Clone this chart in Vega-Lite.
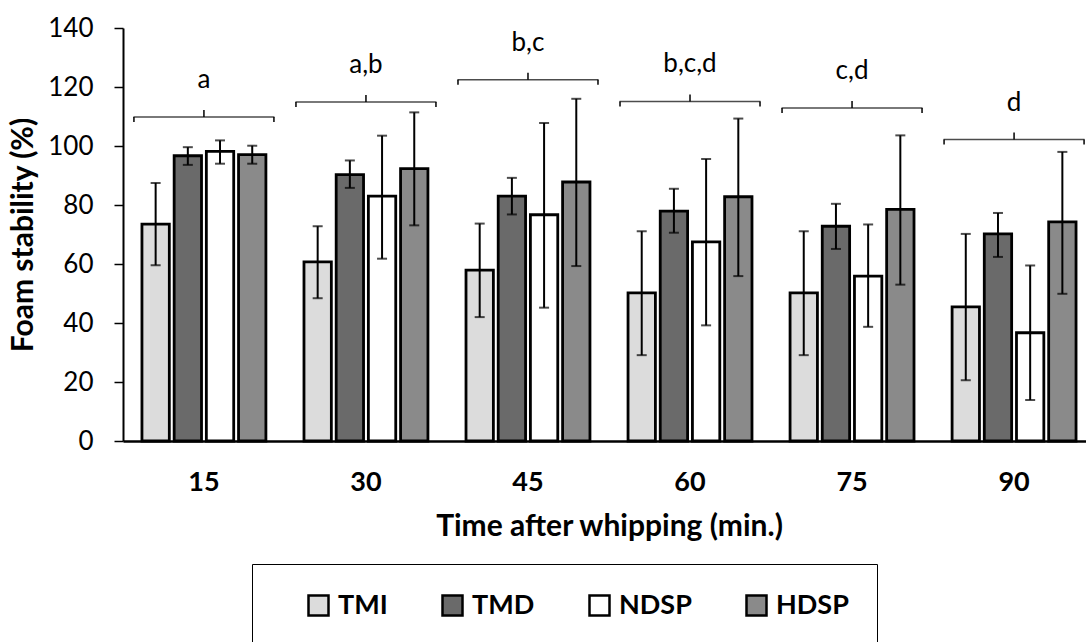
{
  "$schema": "https://vega.github.io/schema/vega-lite/v6.json",
  "width": 963,
  "height": 413,
  "autosize": {"type": "none"},
  "padding": {"left": 123, "top": 28, "right": 0, "bottom": 201},
  "background": "white",
  "config": {"view": {"stroke": null}, "font": "Lato", "text": {"font": "Lato"}},
  "datasets": {
    "bars": [
      {"time": 15, "series": "TMI", "value": 73.5, "lo": 59.6, "hi": 87.5},
      {"time": 15, "series": "TMD", "value": 96.7, "lo": 93.6, "hi": 99.6},
      {"time": 15, "series": "NDSP", "value": 98.2, "lo": 94.0, "hi": 101.9},
      {"time": 15, "series": "HDSP", "value": 97.1, "lo": 94.0, "hi": 100.1},
      {"time": 30, "series": "TMI", "value": 60.7, "lo": 48.4, "hi": 72.8},
      {"time": 30, "series": "TMD", "value": 90.3, "lo": 85.8, "hi": 95.1},
      {"time": 30, "series": "NDSP", "value": 83.0, "lo": 61.8, "hi": 103.5},
      {"time": 30, "series": "HDSP", "value": 92.3, "lo": 73.1, "hi": 111.4},
      {"time": 45, "series": "TMI", "value": 57.9, "lo": 42.0, "hi": 73.7},
      {"time": 45, "series": "TMD", "value": 83.0, "lo": 76.8, "hi": 89.2},
      {"time": 45, "series": "NDSP", "value": 76.7, "lo": 45.2, "hi": 107.8},
      {"time": 45, "series": "HDSP", "value": 87.8, "lo": 59.3, "hi": 116.0},
      {"time": 60, "series": "TMI", "value": 50.2, "lo": 29.1, "hi": 71.1},
      {"time": 60, "series": "TMD", "value": 77.9, "lo": 70.6, "hi": 85.5},
      {"time": 60, "series": "NDSP", "value": 67.5, "lo": 39.2, "hi": 95.6},
      {"time": 60, "series": "HDSP", "value": 82.8, "lo": 55.9, "hi": 109.3},
      {"time": 75, "series": "TMI", "value": 50.2, "lo": 29.1, "hi": 71.1},
      {"time": 75, "series": "TMD", "value": 72.8, "lo": 65.1, "hi": 80.4},
      {"time": 75, "series": "NDSP", "value": 55.9, "lo": 38.7, "hi": 73.4},
      {"time": 75, "series": "HDSP", "value": 78.5, "lo": 53.0, "hi": 103.6},
      {"time": 90, "series": "TMI", "value": 45.5, "lo": 20.6, "hi": 70.2},
      {"time": 90, "series": "TMD", "value": 70.2, "lo": 62.4, "hi": 77.3},
      {"time": 90, "series": "NDSP", "value": 36.7, "lo": 13.9, "hi": 59.5},
      {"time": 90, "series": "HDSP", "value": 74.3, "lo": 49.9, "hi": 98.0}
    ],
    "brackets": [
      {"time": 15, "level": 109.8, "label": "a"},
      {"time": 30, "level": 114.9, "label": "a,b"},
      {"time": 45, "level": 122.5, "label": "b,c"},
      {"time": 60, "level": 115.1, "label": "b,c,d"},
      {"time": 75, "level": 112.9, "label": "c,d"},
      {"time": 90, "level": 102.2, "label": "d"}
    ]
  },
  "layer": [
    {
      "data": {"name": "bars"},
      "mark": {"type": "bar", "stroke": "black", "strokeWidth": 2.8},
      "encoding": {
        "x": {
          "field": "time", "type": "ordinal",
          "scale": {"range": [0, 972], "paddingInner": 0.235, "paddingOuter": 0.117},
          "title": "Time after whipping (min.)",
          "axis": {
            "ticks": false, "domainWidth": 2.5, "domainColor": "black",
            "labelAngle": 0, "labelFontSize": 27, "labelFontWeight": "bold", "labelColor": "black",
            "labelPadding": 28, "titleFontSize": 30, "titleFontWeight": "bold", "titleColor": "black",
            "titlePadding": 16, "grid": false
          }
        },
        "xOffset": {
          "field": "series", "type": "nominal",
          "scale": {"domain": ["TMI", "TMD", "NDSP", "HDSP"], "paddingInner": 0.15, "paddingOuter": 0}
        },
        "y": {
          "field": "value", "type": "quantitative",
          "scale": {"domain": [0, 140], "nice": false},
          "title": "Foam stability (%)",
          "axis": {
            "values": [0, 20, 40, 60, 80, 100, 120, 140], "grid": false,
            "tickSize": 9, "tickWidth": 1.5, "tickColor": "black",
            "domainWidth": 2, "domainColor": "black",
            "labelFontSize": 26, "labelColor": "black", "labelPadding": 21,
            "titleFontSize": 30, "titleFontWeight": "bold", "titleColor": "black", "titlePadding": 9
          }
        },
        "color": {
          "field": "series", "type": "nominal",
          "scale": {"domain": ["TMI", "TMD", "NDSP", "HDSP"], "range": ["#dcdcdc", "#6a6a6a", "#ffffff", "#8a8a8a"]},
          "legend": {
            "orient": "none", "legendX": 129, "legendY": 536, "direction": "horizontal",
            "title": " ", "titleOrient": "left", "titlePadding": 25,
            "padding": 28, "strokeColor": "black",
            "columnPadding": 49, "gridAlign": "none",
            "symbolType": "square", "symbolSize": 400, "symbolStrokeColor": "black", "symbolStrokeWidth": 2.5,
            "labelFontSize": 27, "labelFontWeight": "bold", "labelColor": "black", "labelOffset": 6
          }
        }
      }
    },
    {
      "data": {"name": "bars"},
      "mark": {"type": "rule", "strokeWidth": 2, "color": "black"},
      "encoding": {
        "x": {"field": "time", "type": "ordinal"},
        "xOffset": {"field": "series", "type": "nominal"},
        "y": {"field": "lo", "type": "quantitative"},
        "y2": {"field": "hi"}
      }
    },
    {
      "data": {"name": "bars"},
      "mark": {"type": "tick", "orient": "horizontal", "size": 10, "thickness": 2, "color": "black"},
      "encoding": {
        "x": {"field": "time", "type": "ordinal"},
        "xOffset": {"field": "series", "type": "nominal"},
        "y": {"field": "lo", "type": "quantitative"}
      }
    },
    {
      "data": {"name": "bars"},
      "mark": {"type": "tick", "orient": "horizontal", "size": 10, "thickness": 2, "color": "black"},
      "encoding": {
        "x": {"field": "time", "type": "ordinal"},
        "xOffset": {"field": "series", "type": "nominal"},
        "y": {"field": "hi", "type": "quantitative"}
      }
    },
    {
      "data": {"name": "brackets"},
      "mark": {"type": "tick", "orient": "horizontal", "size": 141, "thickness": 1.5, "color": "black"},
      "encoding": {
        "x": {"field": "time", "type": "ordinal"},
        "y": {"field": "level", "type": "quantitative"}
      }
    },
    {
      "data": {"name": "brackets"},
      "mark": {"type": "rule", "xOffset": -70, "y2Offset": 5, "strokeWidth": 1.5, "color": "black"},
      "encoding": {
        "x": {"field": "time", "type": "ordinal"},
        "y": {"field": "level", "type": "quantitative"},
        "y2": {"field": "level"}
      }
    },
    {
      "data": {"name": "brackets"},
      "mark": {"type": "rule", "xOffset": 70, "y2Offset": 5, "strokeWidth": 1.5, "color": "black"},
      "encoding": {
        "x": {"field": "time", "type": "ordinal"},
        "y": {"field": "level", "type": "quantitative"},
        "y2": {"field": "level"}
      }
    },
    {
      "data": {"name": "brackets"},
      "mark": {"type": "rule", "y2Offset": -7, "strokeWidth": 1.5, "color": "black"},
      "encoding": {
        "x": {"field": "time", "type": "ordinal"},
        "y": {"field": "level", "type": "quantitative"},
        "y2": {"field": "level"}
      }
    },
    {
      "data": {"name": "brackets"},
      "mark": {"type": "text", "baseline": "alphabetic", "dy": -29, "fontSize": 26, "color": "black"},
      "encoding": {
        "x": {"field": "time", "type": "ordinal"},
        "y": {"field": "level", "type": "quantitative"},
        "text": {"field": "label"}
      }
    }
  ]
}
